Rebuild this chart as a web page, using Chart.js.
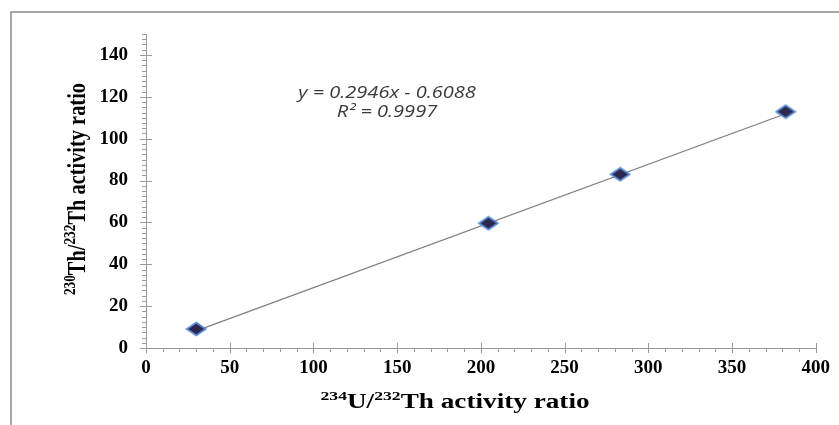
<!DOCTYPE html>
<html>
<head>
<meta charset="utf-8">
<script src="https://cdn.jsdelivr.net/npm/chart.js@4.4.1/dist/chart.umd.min.js"></script>
<style>
  html, body { margin: 0; padding: 0; background: #fff; }
  canvas { display: block; }
</style>
</head>
<body>
<canvas id="grafikon" width="839" height="425"></canvas>
<script>
// measured points (234U/232Th , 230Th/232Th)
var xValues = [30, 204.5, 283.2, 382];
var yValues = [9.1, 59.6, 83.0, 112.9];

// trend line ends
var trendX = [30, 382];
var trendY = [8.2, 111.9];

var xTicks = [0, 50, 100, 150, 200, 250, 300, 350, 400];
var yTicks = [0, 20, 40, 60, 80, 100, 120, 140];

var equationText = "y = 0.2946x - 0.6088";
var r2Text = "R\u00b2 = 0.9997";

var xTitle = [{t: "234", sup: true}, {t: "U/"}, {t: "232", sup: true}, {t: "Th activity ratio"}];
var yTitle = [{t: "230", sup: true}, {t: "Th/"}, {t: "232", sup: true}, {t: "Th activity ratio"}];

// diamond marker, a bit wider than tall like the original
var marker = document.createElement("canvas");
marker.width = 22;
marker.height = 16;
var mc = marker.getContext("2d");
mc.beginPath();
mc.moveTo(11, 1.5);
mc.lineTo(20.5, 8);
mc.lineTo(11, 14.5);
mc.lineTo(1.5, 8);
mc.closePath();
mc.fillStyle = "#2c2850";
mc.fill();
mc.lineWidth = 1.8;
mc.strokeStyle = "#5b8fd6";
mc.stroke();

function drawRich(ctx, parts, x, y, size, supSize) {
    var w = 0;
    parts.forEach(function (p) {
        ctx.font = "bold " + (p.sup ? supSize : size) + "px 'Liberation Serif', 'Times New Roman', serif";
        p.w = ctx.measureText(p.t).width;
        w += p.w;
    });
    var cx = x - w / 2;
    ctx.textAlign = "left";
    ctx.textBaseline = "alphabetic";
    parts.forEach(function (p) {
        ctx.font = "bold " + (p.sup ? supSize : size) + "px 'Liberation Serif', 'Times New Roman', serif";
        ctx.fillText(p.t, cx, p.sup ? y - size * 0.38 : y);
        cx += p.w;
    });
}

var dekor = {
    id: "dekor",
    beforeDatasetsDraw: function (chart) {
        var ctx = chart.ctx;
        var xs = chart.scales.x, ys = chart.scales.y;
        var x0 = xs.getPixelForValue(0), y0 = ys.getPixelForValue(0);
        ctx.save();
        // outer frame
        ctx.strokeStyle = "#8a8a8a";
        ctx.lineWidth = 1.5;
        ctx.beginPath();
        ctx.moveTo(11, 430);
        ctx.lineTo(11, 12);
        ctx.lineTo(845, 12);
        ctx.stroke();

        ctx.strokeStyle = "#9a9a9a";
        ctx.lineWidth = 1;
        ctx.beginPath();
        ctx.moveTo(x0 + 0.5, ys.getPixelForValue(150));
        ctx.lineTo(x0 + 0.5, y0 + 0.5);
        ctx.lineTo(xs.getPixelForValue(400), y0 + 0.5);
        ctx.stroke();

        // y ticks
        ctx.beginPath();
        for (var v = 0; v <= 150; v += 2.5) {
            var py = Math.round(ys.getPixelForValue(v)) + 0.5;
            if (v % 20 === 0) {
                ctx.moveTo(x0 - 6, py); ctx.lineTo(x0 + 6, py);
            } else {
                ctx.moveTo(x0 - 4, py); ctx.lineTo(x0, py);
            }
        }
        // x ticks
        for (var u = 0; u <= 400; u += 10) {
            var px = Math.round(xs.getPixelForValue(u)) + 0.5;
            if (u % 50 === 0) {
                ctx.moveTo(px, y0 - 5); ctx.lineTo(px, y0 + 5);
            } else {
                ctx.moveTo(px, y0); ctx.lineTo(px, y0 + 4);
            }
        }
        ctx.stroke();
        ctx.restore();
    },
    afterDraw: function (chart) {
        var ctx = chart.ctx;
        // titles: the original is stretched sideways, so widen the glyphs
        ctx.save();
        ctx.fillStyle = "#000";
        ctx.translate(455, 408);
        ctx.scale(1.36, 1);
        drawRich(ctx, xTitle, 0, 0, 20, 13);
        ctx.restore();

        ctx.save();
        ctx.fillStyle = "#000";
        ctx.translate(85, 189);
        ctx.rotate(-Math.PI / 2);
        ctx.scale(1.02, 1.3);
        drawRich(ctx, yTitle, 0, 0, 20, 13);
        ctx.restore();

        ctx.save();
        ctx.fillStyle = "#3a3a3a";
        ctx.font = "italic 16px 'Open Sans', 'DejaVu Sans', sans-serif";
        ctx.textAlign = "center";
        ctx.translate(387, 0);
        ctx.scale(1.25, 1);
        ctx.fillText(equationText, 0, 98);
        ctx.fillText(r2Text, 0, 117);
        ctx.restore();
    }
};

new Chart("grafikon", {
    type: "scatter",
    data: {
        datasets: [{
            data: xValues.map(function (x, i) { return {x: x, y: yValues[i]}; }),
            pointStyle: marker,
            pointRadius: 9,
            pointHoverRadius: 9
        }, {
            data: trendX.map(function (x, i) { return {x: x, y: trendY[i]}; }),
            showLine: true,
            borderColor: "#7f7f7f",
            borderWidth: 1.3,
            pointRadius: 0,
            pointHoverRadius: 0
        }]
    },
    options: {
        responsive: false,
        animation: false,
        events: [],
        layout: {padding: {left: 0, top: 34, right: 20, bottom: 0}},
        plugins: {
            legend: {display: false},
            tooltip: {enabled: false},
            title: {display: false}
        },
        scales: {
            x: {
                type: "linear",
                min: 0,
                max: 400,
                afterFit: function (s) { s.height = 77; },
                afterBuildTicks: function (s) { s.ticks = xTicks.map(function (v) { return {value: v}; }); },
                grid: {display: false, drawTicks: false},
                border: {display: false},
                ticks: {
                    padding: 9,
                    color: "#000",
                    font: {family: "'Liberation Serif', serif", size: 19, weight: "bold"}
                }
            },
            y: {
                type: "linear",
                min: 0,
                max: 150,
                afterFit: function (s) { s.width = 146; },
                afterBuildTicks: function (s) { s.ticks = yTicks.map(function (v) { return {value: v}; }); },
                grid: {display: false, drawTicks: false},
                border: {display: false},
                ticks: {
                    padding: 18,
                    color: "#000",
                    font: {family: "'Liberation Serif', serif", size: 19, weight: "bold"}
                }
            }
        }
    },
    plugins: [dekor]
});
</script>
</body>
</html>
